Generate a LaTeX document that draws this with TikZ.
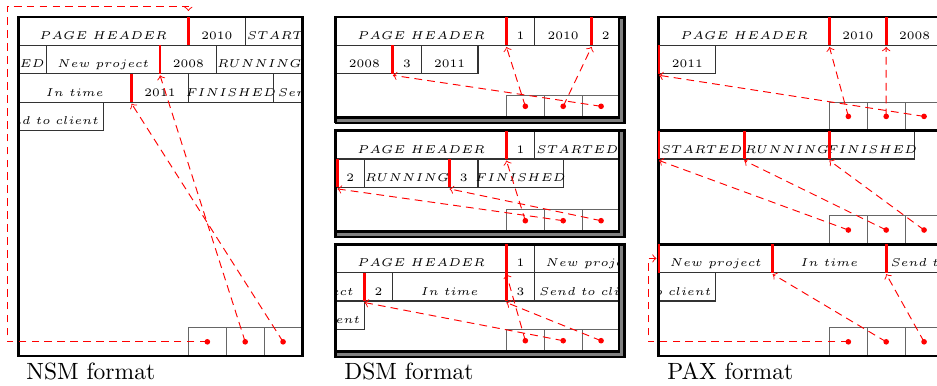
\documentclass[tikz,border=0pt]{standalone}
\tikzset{
 cellline/.style={draw=black!80, line width=0.45pt},
 celltext/.style={font=\tiny, anchor=base, inner sep=0pt, scale=0.97, transform shape},
 slotline/.style={draw=black!60, line width=0.5pt},
 redbar/.style={draw=red, line width=1.2pt},
 ptr/.style={draw=red, line width=0.4pt, dash pattern=on 3.3pt off 2.2pt, ->},
 dot/.style={circle, fill=red, inner sep=0pt, minimum size=2.4pt},
 frame/.style={draw=black, line width=1.25pt},
 lbl/.style={font=\normalsize, anchor=base west, inner sep=0pt},
}
\def\U{28.4}
% cell: x0, rowtop, start, width, text, name
\newcommand\cellat[6]{%
 \draw[cellline] ({#1+(#3)*\U},{#2}) rectangle ({#1+(#3+#4)*\U},{#2+\U});
 \node[celltext] (#6) at ({#1+(#3+#4/2)*\U},{#2+\U-6}) {#5};
}
% red bar: x0, rowtop, pos, tip-name
\newcommand\rbar[4]{%
 \draw[redbar] ({#1+(#3)*\U},{#2}) -- ({#1+(#3)*\U},{#2+\U});
 \coordinate (#4) at ({#1+(#3)*\U},{#2+\U+1.5});
}
% slots: right x, bottom y, height, prefix
\newcommand\slots[4]{%
 \foreach \k in {1,2,3}{%
  \draw[slotline] ({#1-(4-\k)*\U*4/3},{#2-#3}) rectangle ({#1-(3-\k)*\U*4/3},{#2});
  \node[dot] (#4\k) at ({#1-(3.5-\k)*\U*4/3},{#2-#3/2}) {};
 }%
}
\newcommand\dsmframe[2]{%
 \draw[frame] (335.5,#1) rectangle (619,#2);
 \draw[draw=black!50, line width=1.28pt] (621.8,{#1+1.5}) -- (621.8,{#2+2.8}) -- (337,{#2+2.8});
 \draw[draw=black, line width=1.06pt] (624.5,{#1-1.4}) -- (624.5,{#2+5.5}) -- (334.7,{#2+5.5});
 \fill (334.2,{#2}) rectangle (337,{#2+6.1});
 \fill (619,{#1-1.4}) rectangle (625.7,{#1+1.5});
}
\begin{document}
\begin{tikzpicture}[x=0.4255pt,y=-0.4255pt]
\useasboundingbox (0,0) rectangle (937,385);
\fill[white] (0,0) rectangle (937,385);

% ================= NSM =================
\def\X{18}
\begin{scope}
 \clip (18,17) rectangle (302,356);
 \cellat{\X}{17}{0}{6}{$PAGE\ HEADER$}{n11}
 \cellat{\X}{17}{6}{2}{2010}{n12}
 \cellat{\X}{17}{8}{3}{$STARTED$}{n13}
 \cellat{\X}{45.4}{-2}{3}{$STARTED$}{n21}
 \cellat{\X}{45.4}{1}{4}{$New\ project$}{n22}
 \cellat{\X}{45.4}{5}{2}{2008}{n23}
 \cellat{\X}{45.4}{7}{3}{$RUNNING$}{n24}
 \cellat{\X}{73.8}{0}{4}{$In\ time$}{n31}
 \cellat{\X}{73.8}{4}{2}{2011}{n32}
 \cellat{\X}{73.8}{6}{3}{$FINISHED$}{n33}
 \cellat{\X}{73.8}{9}{4}{$Send\ to\ client$}{n34}
 \cellat{\X}{102.2}{-1}{4}{$Send\ to\ client$}{n41}
\end{scope}
\slots{302}{356}{\U}{nsmd}
\draw[frame] (18.5,17) rectangle (302.5,356);
\rbar{\X}{17}{6}{nsmt1}
\rbar{\X}{45.4}{5}{nsmt2}
\rbar{\X}{73.8}{4}{nsmt3}
\coordinate (nsmtop) at (188.4,11);
\draw[ptr] (nsmd1.center) -| (7,6) -| (nsmtop);
\draw[ptr] (nsmd2.center) -- (nsmt2);
\draw[ptr] (nsmd3.center) -- (nsmt3);
\node[lbl] (nsmlabel) at (26,379) {NSM format};

% ================= DSM =================
\def\X{336}
% page 1
\begin{scope}
 \clip (336,17) rectangle (620,117.3);
 \cellat{\X}{17}{0}{6}{$PAGE\ HEADER$}{a11}
 \cellat{\X}{17}{6}{1}{1}{a12}
 \cellat{\X}{17}{7}{2}{2010}{a13}
 \cellat{\X}{17}{9}{1}{2}{a14}
 \cellat{\X}{45.4}{0}{2}{2008}{a21}
 \cellat{\X}{45.4}{2}{1}{3}{a22}
 \cellat{\X}{45.4}{3}{2}{2011}{a23}
\end{scope}
\slots{620}{117.3}{22}{dsmad}
\dsmframe{17}{117.3}
\rbar{\X}{17}{6}{dsmat1}
\rbar{\X}{17}{9}{dsmat2}
\rbar{\X}{45.4}{2}{dsmat3}
\draw[ptr] (dsmad1.center) -- (dsmat1);
\draw[ptr] (dsmad2.center) -- (dsmat2);
\draw[ptr] (dsmad3.center) -- (dsmat3);
% page 2
\begin{scope}
 \clip (336,130.6) rectangle (620,231.7);
 \cellat{\X}{130.6}{0}{6}{$PAGE\ HEADER$}{b11}
 \cellat{\X}{130.6}{6}{1}{1}{b12}
 \cellat{\X}{130.6}{7}{3}{$STARTED$}{b13}
 \cellat{\X}{159}{0}{1}{2}{b21}
 \cellat{\X}{159}{1}{3}{$RUNNING$}{b22}
 \cellat{\X}{159}{4}{1}{3}{b23}
 \cellat{\X}{159}{5}{3}{$FINISHED$}{b24}
\end{scope}
\slots{620}{231.7}{22}{dsmbd}
\dsmframe{130.6}{231.7}
\rbar{\X}{130.6}{6}{dsmbt1}
\rbar{\X}{159}{0.05}{dsmbt2}
\rbar{\X}{159}{4}{dsmbt3}
\draw[ptr] (dsmbd1.center) -- (dsmbt1);
\draw[ptr] (dsmbd2.center) -- (dsmbt2);
\draw[ptr] (dsmbd3.center) -- (dsmbt3);
% page 3
\begin{scope}
 \clip (336,244.2) rectangle (620,351.7);
 \cellat{\X}{244.2}{0}{6}{$PAGE\ HEADER$}{c11}
 \cellat{\X}{244.2}{6}{1}{1}{c12}
 \cellat{\X}{244.2}{7}{4}{$New\ project$}{c13}
 \cellat{\X}{272.6}{-3}{4}{$New\ project$}{c21}
 \cellat{\X}{272.6}{1}{1}{2}{c22}
 \cellat{\X}{272.6}{2}{4}{$In\ time$}{c23}
 \cellat{\X}{272.6}{6}{1}{3}{c24}
 \cellat{\X}{272.6}{7}{4}{$Send\ to\ client$}{c25}
 \cellat{\X}{301}{-3}{4}{$Send\ to\ client$}{c31}
\end{scope}
\slots{620}{351.7}{22}{dsmcd}
\dsmframe{244.2}{351.7}
\rbar{\X}{244.2}{6}{dsmct1}
\rbar{\X}{272.6}{1}{dsmct2}
\rbar{\X}{272.6}{6}{dsmct3}
\draw[ptr] (dsmcd1.center) -- (dsmct1);
\draw[ptr] (dsmcd2.center) -- (dsmct2);
\draw[ptr] (dsmcd3.center) -- (dsmct3);
\node[lbl] (dsmlabel) at (344,379) {DSM format};

% ================= PAX =================
\def\X{659}
\begin{scope}
 \clip (659,17) rectangle (943,356);
 \cellat{\X}{17}{0}{6}{$PAGE\ HEADER$}{p11}
 \cellat{\X}{17}{6}{2}{2010}{p12}
 \cellat{\X}{17}{8}{2}{2008}{p13}
 \cellat{\X}{45.4}{0}{2}{2011}{p14}
 \cellat{\X}{130.6}{0}{3}{$STARTED$}{p21}
 \cellat{\X}{130.6}{3}{3}{$RUNNING$}{p22}
 \cellat{\X}{130.6}{6}{3}{$FINISHED$}{p23}
 \cellat{\X}{244.2}{0}{4}{$New\ project$}{p31}
 \cellat{\X}{244.2}{4}{4}{$In\ time$}{p32}
 \cellat{\X}{244.2}{8}{4}{$Send\ to\ client$}{p33}
 \cellat{\X}{272.6}{-2}{4}{$Send\ to\ client$}{p34}
\end{scope}
\slots{943}{130.6}{\U}{paxad}
\slots{943}{244.2}{\U}{paxbd}
\slots{943}{356}{\U}{paxcd}
\draw[frame] (658.5,17) rectangle (943,356);
\draw[frame] (658.5,130.6) -- (943,130.6);
\draw[frame] (658.5,244.2) -- (943,244.2);
\rbar{\X}{17}{6}{paxat1}
\rbar{\X}{17}{8}{paxat2}
\rbar{\X}{45.4}{0}{paxat3}
\draw[ptr] (paxad1.center) -- (paxat1);
\draw[ptr] (paxad2.center) -- (paxat2);
\draw[ptr] (paxad3.center) -- (paxat3);
\rbar{\X}{130.6}{0}{paxbt1}
\rbar{\X}{130.6}{3}{paxbt2}
\rbar{\X}{130.6}{6}{paxbt3}
\draw[ptr] (paxbd1.center) -- (paxbt1);
\draw[ptr] (paxbd2.center) -- (paxbt2);
\draw[ptr] (paxbd3.center) -- (paxbt3);
\rbar{\X}{244.2}{0}{paxct1}
\rbar{\X}{244.2}{4}{paxct2}
\rbar{\X}{244.2}{8}{paxct3}
\coordinate (paxleft) at (656.5,258.4);
\draw[ptr] (paxcd1.center) -| (648,258.4) -- (paxleft);
\draw[ptr] (paxcd2.center) -- (paxct2);
\draw[ptr] (paxcd3.center) -- (paxct3);
\node[lbl] (paxlabel) at (667,379) {PAX format};
\end{tikzpicture}
\end{document}
